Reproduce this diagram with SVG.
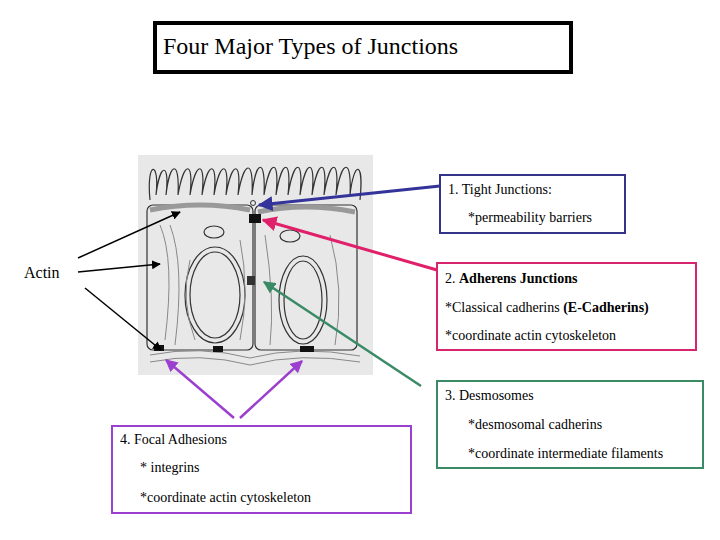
<svg xmlns="http://www.w3.org/2000/svg" width="720" height="540" viewBox="0 0 720 540" font-family="'Liberation Serif', 'DejaVu Serif', serif">
<style>
text{font-family:'Liberation Serif','DejaVu Serif',serif;font-size:14px;fill:#000}
.b{font-weight:bold}
.c{fill:none;stroke:#333;stroke-width:1.2}
.g{fill:none;stroke:#888;stroke-width:1}
</style>
<defs>
<marker id="ab" viewBox="0 0 10 10" refX="9" refY="5" markerWidth="5" markerHeight="5" orient="auto"><path d="M0,0L10,5L0,10z" fill="#33339a"/></marker>
<marker id="ap" viewBox="0 0 10 10" refX="9" refY="5" markerWidth="5" markerHeight="5" orient="auto"><path d="M0,0L10,5L0,10z" fill="#e0206a"/></marker>
<marker id="ag" viewBox="0 0 10 10" refX="9" refY="5" markerWidth="5" markerHeight="5" orient="auto"><path d="M0,0L10,5L0,10z" fill="#3a8a66"/></marker>
<marker id="av" viewBox="0 0 10 10" refX="9" refY="5" markerWidth="5" markerHeight="5" orient="auto"><path d="M0,0L10,5L0,10z" fill="#9b3fcf"/></marker>
<marker id="ak" viewBox="0 0 10 10" refX="9" refY="5" markerWidth="6" markerHeight="6" orient="auto"><path d="M0,0L10,5L0,10z" fill="#000"/></marker>
</defs>
<rect width="720" height="540" fill="#fff"/>
<g id="title"><rect x="155" y="23" width="416" height="49" fill="#fff" stroke="#000" stroke-width="4"/><text x="163" y="54" style="font-size:24px">Four Major Types of Junctions</text></g>
<g id="cells">
<rect x="138" y="155" width="235" height="220" fill="#e8e8e8"/>
<path class="c" d="M150,200 C146,160 160,160 156,195 C160,162 170,162 166,195 C170,160 180,160 178,195 C184,160 194,160 190,195 C196,160 206,160 202,195 C208,160 218,160 214,195 C220,160 230,160 226,195 C232,160 242,160 238,195 C244,160 254,158 252,195 C256,158 266,158 264,195 C270,158 280,158 276,195 C282,158 292,158 288,195 C294,158 304,158 300,195 C306,158 316,158 312,195 C318,158 328,158 324,195 C330,158 340,158 336,195 C342,158 352,158 350,195 C354,160 364,160 360,200"/>
<rect class="c" x="147" y="205" width="106" height="145" rx="6"/>
<rect class="c" x="255" y="205" width="102" height="145" rx="6"/>
<path d="M150,210 Q200,200 250,210" stroke="#999" stroke-width="5" fill="none"/>
<path d="M258,212 Q305,202 355,212" stroke="#999" stroke-width="5" fill="none"/>
<ellipse class="c" cx="215" cy="295" rx="30" ry="48"/>
<ellipse class="c" cx="215" cy="295" rx="25" ry="43"/>
<ellipse class="c" cx="303" cy="300" rx="24" ry="44"/>
<ellipse class="c" cx="303" cy="300" rx="19" ry="39"/>
<ellipse class="c" cx="214" cy="232" rx="10" ry="6"/>
<ellipse class="c" cx="290" cy="236" rx="10" ry="6"/>
<path class="g" d="M160,225 Q175,260 165,340 M170,225 Q185,265 175,345 M190,260 Q180,300 195,340 M240,240 Q250,290 240,340 M265,235 Q275,300 270,345 M330,235 Q345,290 335,345 M150,355 Q200,345 250,358 Q300,345 360,356 M150,362 Q200,352 250,365 Q300,352 360,362"/>
<rect x="249" y="214" width="12" height="9" fill="#111"/>
<rect x="247" y="276" width="8" height="9" fill="#333"/>
<circle cx="253" cy="203" r="2.5" fill="none" stroke="#333"/>
<rect x="154" y="345" width="10" height="6" fill="#111"/>
<rect x="213" y="346" width="10" height="6" fill="#111"/>
<rect x="300" y="346" width="14" height="6" fill="#111"/>
</g>
<g id="connectors" fill="none">
<line x1="440" y1="186" x2="259" y2="205" stroke="#33339a" stroke-width="3" marker-end="url(#ab)"/>
<line x1="437" y1="270" x2="263" y2="220" stroke="#e0206a" stroke-width="3" marker-end="url(#ap)"/>
<line x1="421" y1="386" x2="264" y2="282" stroke="#3a8a66" stroke-width="2.5" marker-end="url(#ag)"/>
<line x1="234" y1="418" x2="166" y2="360" stroke="#9b3fcf" stroke-width="2.5" marker-end="url(#av)"/>
<line x1="240" y1="418" x2="302" y2="361" stroke="#9b3fcf" stroke-width="2.5" marker-end="url(#av)"/>
<line x1="78" y1="258" x2="180" y2="212" stroke="#000" stroke-width="1.5" marker-end="url(#ak)"/>
<line x1="78" y1="272" x2="160" y2="264" stroke="#000" stroke-width="1.5" marker-end="url(#ak)"/>
<line x1="85" y1="288" x2="161" y2="350" stroke="#000" stroke-width="1.5" marker-end="url(#ak)"/>
</g>
<g id="actin"><text x="24" y="278" style="font-size:16px">Actin</text></g>
<g id="box1"><rect x="440" y="175" width="185" height="58" fill="#fff" stroke="#33338a" stroke-width="2"/>
<text x="448" y="194">1.  Tight Junctions:</text><text x="468" y="222">*permeability barriers</text></g>
<g id="box2"><rect x="437" y="263" width="259" height="87" fill="#fff" stroke="#d6246e" stroke-width="2"/>
<text x="445" y="283">2.  <tspan class="b">Adherens Junctions</tspan></text><text x="445" y="312">*Classical cadherins <tspan class="b">(E-Cadherins)</tspan></text><text x="445" y="340">*coordinate actin cytoskeleton</text></g>
<g id="box3"><rect x="437" y="381" width="266" height="87" fill="#fff" stroke="#3a8a66" stroke-width="2"/>
<text x="445" y="400">3.  Desmosomes</text><text x="468" y="429">*desmosomal cadherins</text><text x="468" y="458">*coordinate intermediate filaments</text></g>
<g id="box4"><rect x="112" y="426" width="299" height="87" fill="#fff" stroke="#9b3fcf" stroke-width="2"/>
<text x="120" y="444">4.  Focal Adhesions</text><text x="140" y="472">* integrins</text><text x="140" y="502">*coordinate actin cytoskeleton</text></g>
</svg>
